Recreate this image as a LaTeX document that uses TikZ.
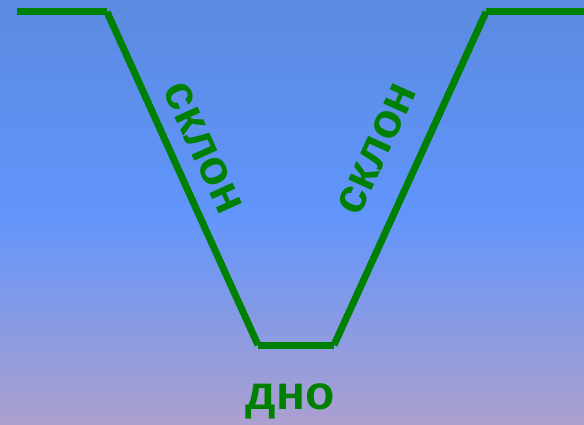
\documentclass[tikz,border=0pt]{standalone}
\usepackage{fontspec}
\setmainfont{Liberation Sans}[BoldFont={Liberation Sans Bold}]
\usepackage{tikz}
\usetikzlibrary{positioning, calc}
\definecolor{skytop}{RGB}{91,138,224}
\definecolor{skymid}{RGB}{97,149,252}
\definecolor{skybot}{RGB}{172,160,206}
\definecolor{ravine}{RGB}{0,128,0}
\tikzset{
    wall/.style={draw=ravine, line width=7pt, line cap=butt},
    word/.style={text=ravine, font=\fontsize{48}{48}\selectfont\bfseries, inner sep=0pt},
}

\begin{document}
\begin{tikzpicture}[x=1pt, y=-1pt]
    % background
    \fill[top color=skytop, bottom color=skybot, middle color=skymid] (0,0) rectangle (584,425);
    \useasboundingbox (0,0) rectangle (584,425);

    \coordinate (lend) at (17,12);
    \coordinate (ltop) at (107,12);
    \coordinate (lbot) at (258,345);
    \coordinate (rbot) at (334,345);
    \coordinate (rtop) at (486,12);
    \coordinate (rend) at (584,12);

    \draw[wall] (lend) -- (ltop);
    \draw[wall] (ltop) -- (lbot);
    \draw[wall] (lbot) -- (rbot);
    \draw[wall] (rbot) -- (rtop);
    \draw[wall] (rtop) -- (rend);

    \node[word, rotate=-65.6] (lslope) at (203,148) {склон};
    \node[word, rotate=65.6] (rslope) at (377,149) {склон};
    \node[word] (floor) at (290,401) {дно};
  \end{tikzpicture}
\end{document}
